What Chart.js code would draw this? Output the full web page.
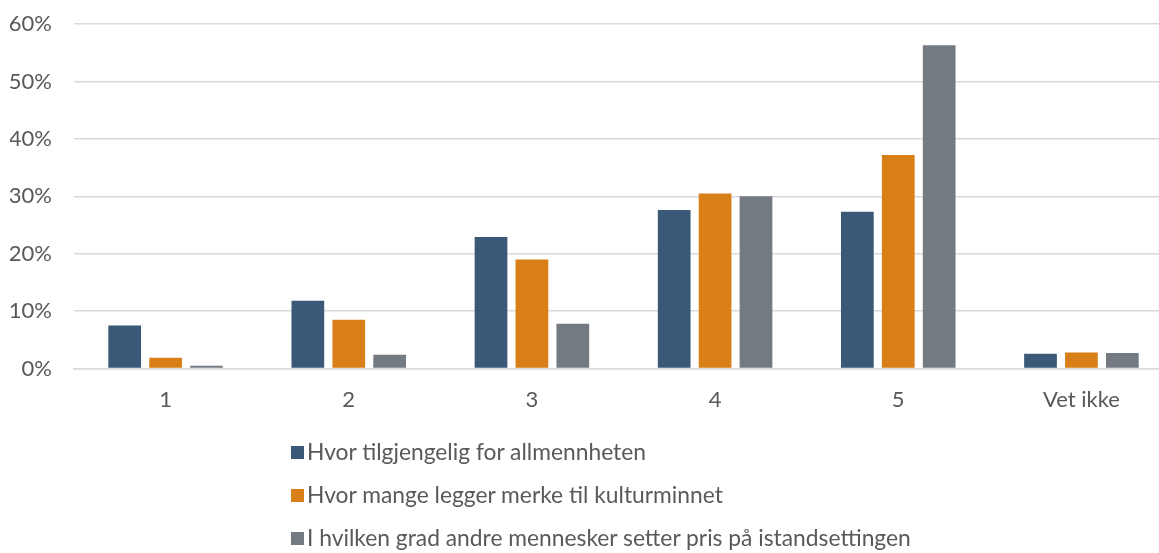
<!DOCTYPE html>
<html><head><meta charset="utf-8">
<script src="https://cdn.jsdelivr.net/npm/chart.js@4/dist/chart.umd.min.js"></script>
<style>
html,body{margin:0;padding:0;background:#fff;overflow:hidden;}
#wrap{position:relative;width:1159px;height:553px;overflow:hidden;}
#c{position:absolute;left:0;top:0;}
#legend{position:absolute;left:291px;top:438px;font-family:Lato,"Liberation Sans",sans-serif;font-size:22.8px;line-height:26px;color:#595959;}
.li{height:43px;display:flex;align-items:flex-start;white-space:nowrap;}
.sw{width:13px;height:13px;margin-right:3px;margin-top:8px;flex:none;}
</style></head>
<body><div id="wrap"><canvas id="c" width="1173" height="553"></canvas><div id="legend"></div></div>
<script>
const categories = ["1","2","3","4","5","Vet ikke"];
const seriesNames = ["Hvor tilgjengelig for allmennheten","Hvor mange legger merke til kulturminnet","I hvilken grad andre mennesker setter pris på istandsettingen"];
const seriesA = [7.5, 11.8, 22.9, 27.6, 27.3, 2.6];
const seriesB = [1.9, 8.5, 19.0, 30.5, 37.2, 2.8];
const seriesC = [0.5, 2.4, 7.8, 30.0, 56.3, 2.7];
const colors = ["#3A5877","#D97F17","#737A81"];
const yTicks = [0,10,20,30,40,50,60];

const font = {family:'Lato,"Liberation Sans",sans-serif', size:22};
const data = {
  labels: categories,
  datasets: [seriesA, seriesB, seriesC].map((d,i)=>({
    label: seriesNames[i], data: d, backgroundColor: colors[i],
    categoryPercentage: 0.67, barPercentage: 0.8
  }))
};
new Chart(document.getElementById('c'), {
  type:'bar', data,
  options:{
    responsive:false, animation:false,
    layout:{padding:{left:10,right:0,top:24,bottom:122}},
    plugins:{legend:{display:false},tooltip:{enabled:false}},
    scales:{
      x:{grid:{display:false,drawTicks:false},border:{color:'#D9D9D9',width:1.5},
         ticks:{color:'#595959',font,padding:18},
         afterFit:(s)=>{s.paddingLeft=0;s.paddingRight=0;}},
      y:{min:0,max:60,afterBuildTicks:(ax)=>{ax.ticks=yTicks.map(v=>({value:v}));},
         afterFit:(s)=>{s.width=64;s.paddingTop=0;s.paddingBottom=0;},
         grid:{color:'#D9D9D9',lineWidth:1.5,drawTicks:false},border:{display:false},
         ticks:{color:'#595959',font,padding:22,callback:v=>v+'%'}}
    }
  }
});
const lg=document.getElementById('legend');
seriesNames.forEach((n,i)=>{
  const d=document.createElement('div');d.className='li';
  d.innerHTML='<span class="sw" style="background:'+colors[i]+'"></span><span>'+n+'</span>';
  lg.appendChild(d);
});
</script></body></html>
